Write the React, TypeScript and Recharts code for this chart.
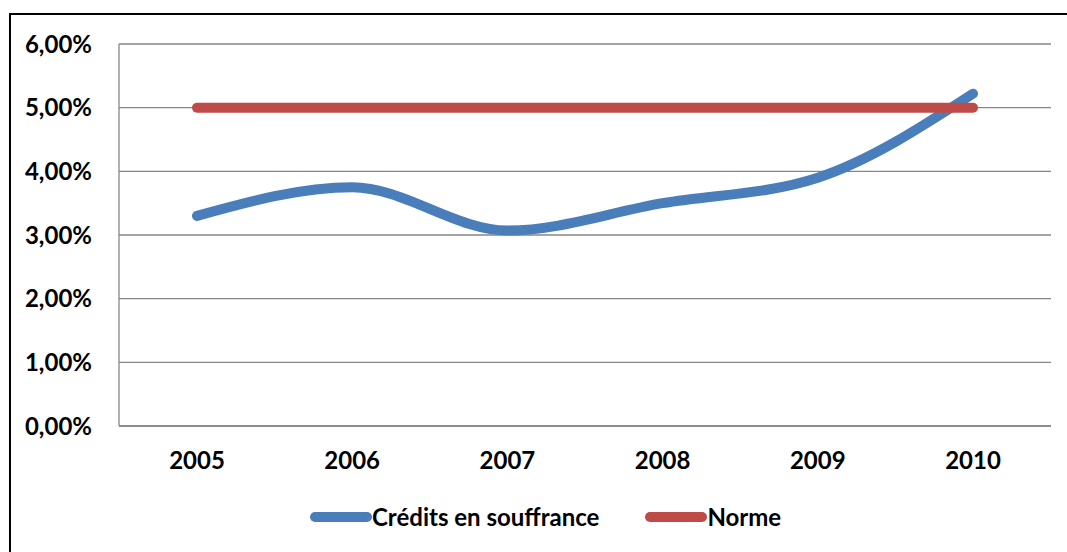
import { CartesianGrid, Line, LineChart, XAxis, YAxis } from "recharts";

// Taux de créances en souffrance vs norme, 2005–2010 (en %)
const years = ["2005", "2006", "2007", "2008", "2009", "2010"];
const credits = [3.3, 3.75, 3.07, 3.5, 3.9, 5.22];
const norme = [5, 5, 5, 5, 5, 5];
const yTicks = [0, 1, 2, 3, 4, 5, 6];

const SERIES = [
  { key: "credits", name: "Crédits en souffrance", color: "#4a7ebb" },
  { key: "norme", name: "Norme", color: "#be4b48" },
];

const FONT = "Lato, 'Open Sans', sans-serif";
const GRID = "#868686";

const data = years.map((year, i) => ({
  year,
  credits: credits[i],
  norme: norme[i],
}));

const fmtPct = (v: number) => `${v.toFixed(2).replace(".", ",")}%`;

function LegendRow() {
  return (
    <div
      style={{
        position: "absolute",
        top: 502,
        left: 310,
        display: "flex",
        alignItems: "center",
        fontFamily: FONT,
        fontWeight: 700,
        fontSize: 24,
        color: "#000",
      }}
    >
      {SERIES.map((s, i) => (
        <div
          key={s.key}
          style={{ display: "flex", alignItems: "center", marginRight: i === 0 ? 46 : 0 }}
        >
          <span
            style={{
              display: "inline-block",
              width: 62,
              height: 10,
              borderRadius: 5,
              background: s.color,
            }}
          />
          <span>{s.name}</span>
        </div>
      ))}
    </div>
  );
}

export default function App() {
  return (
    <div
      style={{
        position: "absolute",
        left: 0,
        top: 0,
        width: 1067,
        height: 552,
        overflow: "hidden",
        background: "#fff",
      }}
    >
      <div
        style={{
          position: "absolute",
          left: 9,
          top: 13,
          width: 1080,
          height: 560,
          border: "2px solid #000",
          boxShadow: "2px 2px 3px rgba(0,0,0,0.35)",
        }}
      />
      <div style={{ position: "absolute", left: 0, top: 0 }}>
        <LineChart
          width={1067}
          height={552}
          data={data}
          margin={{ top: 44, right: 16, bottom: 0, left: 0 }}
        >
          <CartesianGrid vertical={false} stroke={GRID} strokeWidth={1.3} />
          <XAxis
            dataKey="year"
            padding={{ left: 78, right: 78 }}
            axisLine={{ stroke: GRID, strokeWidth: 1.3 }}
            tickLine={false}
            tickSize={0}
            tickMargin={26}
            height={126}
            tick={{ fontFamily: FONT, fontWeight: 700, fontSize: 24, fill: "#000" }}
          />
          <YAxis
            width={119}
            domain={[0, 6]}
            ticks={yTicks}
            tickFormatter={fmtPct}
            axisLine={{ stroke: GRID, strokeWidth: 1.3 }}
            tickLine={false}
            tickSize={0}
            tickMargin={27}
            tick={{ fontFamily: FONT, fontWeight: 700, fontSize: 24, fill: "#000" }}
          />
          {SERIES.map((s) => (
            <Line
              key={s.key}
              dataKey={s.key}
              name={s.name}
              type="monotone"
              stroke={s.color}
              strokeWidth={10}
              strokeLinecap="round"
              dot={false}
              activeDot={false}
              isAnimationActive={false}
            />
          ))}
        </LineChart>
      </div>
      <LegendRow />
    </div>
  );
}
